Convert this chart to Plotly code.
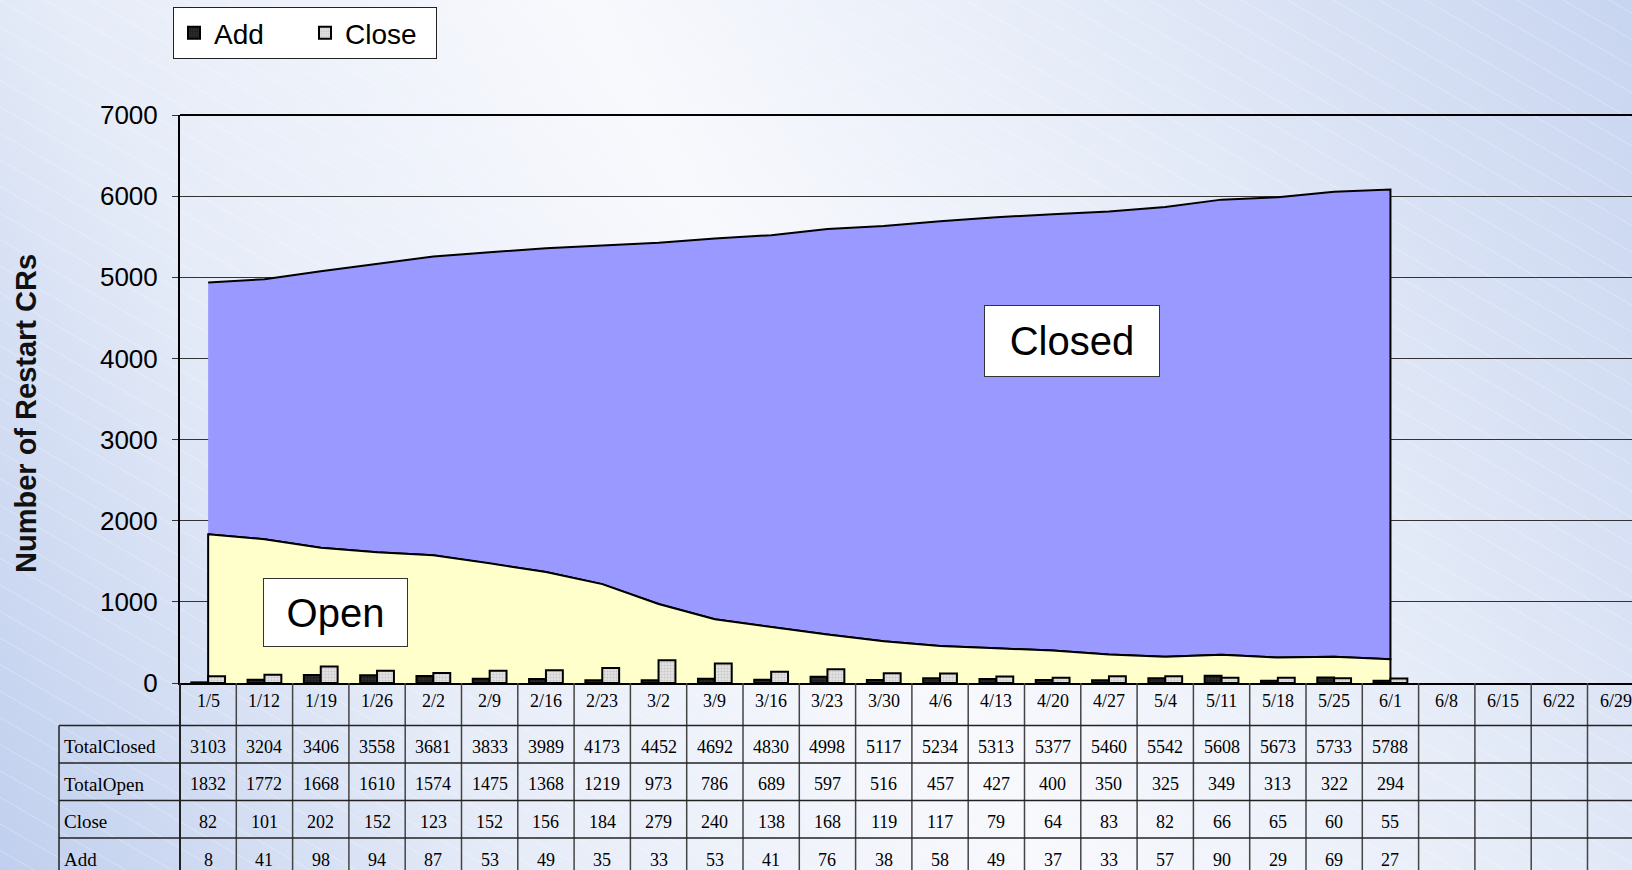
import base64
import plotly.graph_objects as go

# ---------------- data ----------------
dates = ['1/5', '1/12', '1/19', '1/26', '2/2', '2/9', '2/16', '2/23', '3/2', '3/9',
         '3/16', '3/23', '3/30', '4/6', '4/13', '4/20', '4/27', '5/4', '5/11', '5/18',
         '5/25', '6/1', '6/8', '6/15', '6/22', '6/29']
total_closed = [3103, 3204, 3406, 3558, 3681, 3833, 3989, 4173, 4452, 4692, 4830, 4998,
                5117, 5234, 5313, 5377, 5460, 5542, 5608, 5673, 5733, 5788]
total_open = [1832, 1772, 1668, 1610, 1574, 1475, 1368, 1219, 973, 786, 689, 597,
              516, 457, 427, 400, 350, 325, 349, 313, 322, 294]
close_vals = [82, 101, 202, 152, 123, 152, 156, 184, 279, 240, 138, 168,
              119, 117, 79, 64, 83, 82, 66, 65, 60, 55]
add_vals = [8, 41, 98, 94, 87, 53, 49, 35, 33, 53, 41, 76,
            38, 58, 49, 37, 33, 57, 90, 29, 69, 27]
row_labels = ['TotalClosed', 'TotalOpen', 'Close', 'Add']
y_ticks = [0, 1000, 2000, 3000, 4000, 5000, 6000, 7000]

# ---------------- geometry (pixels) ----------------
W, H = 1632, 870
PL, PT, PB = 180, 115, 683          # plot left, top, bottom
PW, PH = W - PL, PB - PT
COLW = 56.3                          # width of one category column
LABEL_L = 59                         # left edge of row-label column
ROW_EDGES = [683, 725.5, 763, 800.5, 838, 876]
DATE_TEXT_Y = 701
TEXT_SHIFT = 2.5


def py(ypx):
    return (PB - ypx) / PH


def px(xpx):
    return (xpx - PL) / PW


n = len(total_open)
xs = list(range(n))
totals = [c + o for c, o in zip(total_closed, total_open)]

fig = go.Figure()

# Closed area (stacked between open and total)
fig.add_trace(go.Scatter(
    x=xs + xs[::-1], y=totals + total_open[::-1],
    fill='toself', fillcolor='#9999FF', mode='lines',
    line=dict(color='black', width=2), showlegend=False, hoverinfo='skip'))
# Open area
fig.add_trace(go.Scatter(
    x=[xs[0]] + xs + [xs[-1]], y=[0] + total_open + [0],
    fill='toself', fillcolor='#FFFFCC', mode='lines',
    line=dict(color='black', width=2), showlegend=False, hoverinfo='skip'))

# Bars (on an overlaying y axis so they sit in front of the areas)
fig.add_trace(go.Bar(
    x=xs, y=add_vals, name='Add', yaxis='y2',
    marker=dict(color='#2e2e2e', line=dict(color='black', width=2),
                pattern=dict(shape='.', fgcolor='#000000', fillmode='overlay',
                             size=3, solidity=0.4))))
fig.add_trace(go.Bar(
    x=xs, y=close_vals, name='Close', yaxis='y2',
    marker=dict(color='#e4e4e4', line=dict(color='black', width=2),
                pattern=dict(shape='.', fgcolor='#a8a8a8', fillmode='overlay',
                             size=3, solidity=0.4))))

# ---------------- table ----------------
shapes = []
annotations = []
serif = dict(family='Liberation Serif, Times New Roman, serif', size=18, color='black')
serif_lab = dict(family='Liberation Serif, Times New Roman, serif', size=19, color='black')

ncols = len(dates)
for i in range(1, ncols + 1):
    shapes.append(dict(type='line', xref='x', yref='paper', x0=i - 0.5, x1=i - 0.5,
                       y0=0, y1=py(ROW_EDGES[-1]), line=dict(color='#444', width=1.5)))
shapes.append(dict(type='line', xref='paper', yref='paper', x0=0, x1=0,
                   y0=0, y1=py(ROW_EDGES[-1]), line=dict(color='#222', width=2)))
shapes.append(dict(type='line', xref='paper', yref='paper', x0=px(LABEL_L), x1=px(LABEL_L),
                   y0=py(ROW_EDGES[1]), y1=py(ROW_EDGES[-1]), line=dict(color='#222', width=1.5)))
for e in ROW_EDGES[1:]:
    shapes.append(dict(type='line', xref='paper', yref='paper', x0=px(LABEL_L), x1=1,
                       y0=py(e), y1=py(e), line=dict(color='#222', width=1.5)))
shapes.append(dict(type='line', xref='paper', yref='paper', x0=0, x1=1, y0=1, y1=1,
                   line=dict(color='black', width=2)))

for i, d in enumerate(dates):
    annotations.append(dict(x=i, y=py(DATE_TEXT_Y), xref='x', yref='paper', text=d,
                            showarrow=False, font=serif, xanchor='center', yanchor='middle'))
rows = [total_closed, total_open, close_vals, add_vals]
for r, (lab, vals) in enumerate(zip(row_labels, rows)):
    yc = py((ROW_EDGES[r + 1] + ROW_EDGES[r + 2]) / 2 + TEXT_SHIFT)
    annotations.append(dict(x=px(LABEL_L + 3), y=yc, xref='paper', yref='paper', text=lab,
                            showarrow=False, font=serif_lab, xanchor='left', yanchor='middle'))
    for i, v in enumerate(vals):
        annotations.append(dict(x=i, y=yc, xref='x', yref='paper', text=str(v),
                                showarrow=False, font=serif, xanchor='center',
                                yanchor='middle'))

box_font = dict(family='Liberation Sans, Arial, sans-serif', size=40, color='black')
annotations.append(dict(x=15.35, y=4211, xref='x', yref='y', text='Closed', showarrow=False,
                        font=box_font, bgcolor='white', bordercolor='#333', borderwidth=1,
                        borderpad=0, width=174, height=70))
annotations.append(dict(x=2.26, y=868, xref='x', yref='y', text='Open', showarrow=False,
                        font=box_font, bgcolor='white', bordercolor='#333', borderwidth=1,
                        borderpad=0, width=143, height=67))
annotations.append(dict(x=px(26), y=py(414), xref='paper', yref='paper',
                        xanchor='center', yanchor='middle',
                        text='<b>Number of Restart CRs</b>', textangle=-90, showarrow=False,
                        font=dict(family='Liberation Sans, Arial, sans-serif', size=29,
                                  color='#111')))

# ---------------- background ----------------
svg = f'''<svg xmlns="http://www.w3.org/2000/svg" width="{W}" height="{H}" viewBox="0 0 {W} {H}">
<defs>
<linearGradient id="g" gradientUnits="userSpaceOnUse" x1="0" y1="{H}" x2="{W}" y2="0">
<stop offset="0" stop-color="#c0cfee"/>
<stop offset="0.25" stop-color="#e6ecf8"/>
<stop offset="0.5" stop-color="#f8f9fd"/>
<stop offset="0.72" stop-color="#e6ecf8"/>
<stop offset="1" stop-color="#c8d5f0"/>
</linearGradient>
<pattern id="p" width="40" height="23" patternUnits="userSpaceOnUse" patternTransform="rotate(30)">
<line x1="0" y1="0.5" x2="40" y2="0.5" stroke="#ffffff" stroke-opacity="0.25" stroke-width="1"/>
</pattern>
</defs>
<rect width="{W}" height="{H}" fill="url(#g)"/>
<rect width="{W}" height="{H}" fill="url(#p)"/>
</svg>'''
bg_src = 'data:image/svg+xml;base64,' + base64.b64encode(svg.encode()).decode()

fig.update_layout(
    width=W, height=H,
    margin=dict(l=PL, r=0, t=PT, b=H - PB, pad=0),
    paper_bgcolor='#e8edf8', plot_bgcolor='white',
    barmode='group', bargap=0.4, bargroupgap=0,
    shapes=shapes, annotations=annotations,
    images=[dict(source=bg_src, xref='paper', yref='paper', x=px(0), y=py(0),
                 sizex=W / PW, sizey=H / PH, xanchor='left', yanchor='top',
                 sizing='stretch', layer='below')],
    legend=dict(orientation='h', x=px(173), y=py(7), xanchor='left', yanchor='top',
                bgcolor='white', bordercolor='#222', borderwidth=1,
                font=dict(family='Liberation Sans, Arial, sans-serif', size=28, color='black'),
                entrywidth=86, entrywidthmode='pixels', itemwidth=30),
    xaxis=dict(range=[-0.5, -0.5 + PW / COLW], showticklabels=False, ticks='',
               showgrid=False, zeroline=False, showline=True, linecolor='black', linewidth=2,
               fixedrange=True),
    yaxis=dict(range=[0, 7000], tickvals=y_ticks, showgrid=True, gridcolor='#333',
               gridwidth=1, zeroline=False, showline=True, linecolor='black', linewidth=2,
               ticks='outside', ticklen=6, tickcolor='#333', ticklabelstandoff=9,
               tickfont=dict(family='Liberation Sans, Arial, sans-serif', size=26,
                             color='black'), fixedrange=True),
    yaxis2=dict(range=[0, 7000], overlaying='y', visible=False, fixedrange=True),
    showlegend=True,
)

fig.write_html("out.html", config={'displayModeBar': False},
               post_script="document.body.style.margin='0';document.body.style.overflow='hidden';")
